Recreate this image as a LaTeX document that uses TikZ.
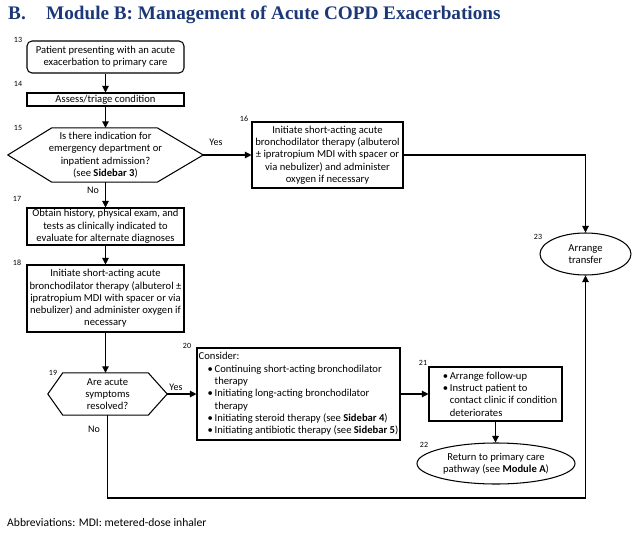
\documentclass[tikz,border=0pt]{standalone}
\usepackage{fontspec}
\setmainfont{Carlito}
\newfontfamily\titlefont{Liberation Serif}
\usetikzlibrary{shapes.geometric,arrows.meta,calc}
\definecolor{titleblue}{RGB}{28,56,120}
\newcommand{\bul}{\hspace*{9pt}\makebox[7pt][l]{\textbullet}}
\newcommand{\cnt}{\hspace*{16pt}}
\begin{document}
\begin{tikzpicture}[x=1pt,y=-1pt,
  every node/.style={font=\fontsize{10.6}{12.3}\selectfont},
  box/.style={draw, line width=1.05pt, inner sep=0pt, align=center},
  hexnode/.style={inner sep=0pt, align=center},
  oval/.style={draw, ellipse, line width=1.05pt, inner sep=0pt, align=center},
  num/.style={font=\fontsize{8}{9}\selectfont, inner sep=0pt},
  lbl/.style={font=\fontsize{10}{11}\selectfont, inner sep=0pt},
  conn/.style={line width=1.1pt, -{Triangle[length=6.5pt,width=6.5pt]}},
  plain/.style={line width=1.05pt}
]
\useasboundingbox (0,0) rectangle (640,535);

% title
\node[anchor=base west, inner sep=0pt, font=\titlefont\bfseries\fontsize{19.2}{21}\selectfont, text=titleblue] (tB) at (8,20) {B.};
\node[anchor=base west, inner sep=0pt, font=\titlefont\bfseries\fontsize{19.2}{21}\selectfont, text=titleblue] (tM) at (46,20) {Module B: Management of Acute COPD Exacerbations};

% nodes
\node[box, rounded corners=5pt, minimum width=157, minimum height=32] (b13) at (105.5,57)
  {Patient presenting with an acute\\exacerbation to primary care};
\node[box, minimum width=157, minimum height=13] (b14) at (105.5,99.5) {Assess/triage condition};
\node[hexnode, minimum width=195, minimum height=54] (h15) at (105.5,155)
  {Is there indication for\\emergency department or\\inpatient admission?\\(see \textbf{Sidebar 3})};
\draw[plain] (h15.west) -- ($(h15.north west)+(44,0)$) -- ($(h15.north east)+(-46,0)$) -- (h15.east)
  -- ($(h15.south east)+(-46,0)$) -- ($(h15.south west)+(44,0)$) -- cycle;
\node[box, minimum width=151, minimum height=66] (b16) at (327.5,155)
  {Initiate short-acting acute\\bronchodilator therapy (albuterol\\± ipratropium MDI with spacer or\\via nebulizer) and administer\\oxygen if necessary};
\node[box, minimum width=157, minimum height=37] (b17) at (105.5,226.5)
  {Obtain history, physical exam, and\\tests as clinically indicated to\\evaluate for alternate diagnoses};
\node[box, minimum width=157, minimum height=67] (b18) at (105.5,298.5)
  {Initiate short-acting acute\\bronchodilator therapy (albuterol ±\\ipratropium MDI with spacer or via\\nebulizer) and administer oxygen if\\necessary};
\node[hexnode, minimum width=119, minimum height=42] (h19) at (107.5,394)
  {Are acute\\symptoms\\resolved?};
\draw[plain] (h19.west) -- ($(h19.north west)+(15,0)$) -- ($(h19.north east)+(-19,0)$) -- (h19.east)
  -- ($(h19.south east)+(-19,0)$) -- ($(h19.south west)+(15,0)$) -- cycle;
\node[box, align=left, minimum width=203, minimum height=92] (b20) at (298.5,394)
  {Consider:\\
   \bul Continuing short-acting bronchodilator\\
   \cnt therapy\\
   \bul Initiating long-acting bronchodilator\\
   \cnt therapy\\
   \bul Initiating steroid therapy (see \textbf{Sidebar 4})\\
   \bul Initiating antibiotic therapy (see \textbf{Sidebar 5})};
\node[box, align=left, minimum width=133, minimum height=54] (b21) at (495.5,394)
  {\bul Arrange follow-up\\
   \bul Instruct patient to\\
   \cnt contact clinic if condition\\
   \cnt deteriorates};
\node[oval, minimum width=158, minimum height=41] (e22) at (496,463.5)
  {Return to primary care\\pathway (see \textbf{Module A})};
\node[oval, minimum width=91, minimum height=42] (e23) at (585.5,254)
  {Arrange\\transfer};

% numbers
\node[num] (n13) at (18,40) {13};
\node[num] (n14) at (18,84) {14};
\node[num] (n15) at (18,128) {15};
\node[num] (n16) at (244,119) {16};
\node[num] (n17) at (17,199) {17};
\node[num] (n18) at (17,263) {18};
\node[num] (n19) at (53,373) {19};
\node[num] (n20) at (187,346) {20};
\node[num] (n21) at (423,363) {21};
\node[num] (n22) at (424,445) {22};
\node[num] (n23) at (538,237) {23};

% connector labels
\node[lbl] (y15) at (216,142) {Yes};
\node[lbl] (no15) at (93,190) {No};
\node[lbl] (y19) at (176,387) {Yes};
\node[lbl] (no19) at (94,429) {No};

% connectors
\coordinate (c1) at (107.5,498);
\draw[conn] (b13) -- (b14);
\draw[conn] (b14) -- (h15);
\draw[conn] (h15.east) -- (b16.west);
\draw[conn] (h15.south) -- (b17.north);
\draw[conn] (b16.east) -| (e23.north);
\draw[conn] (b17) -- (b18);
\draw[conn] (b18.south) -- (b18.south |- h19.north);
\draw[conn] (h19.east) -- (b20.west);
\draw[conn] (b20.east) -- (b21.west);
\draw[conn] (b21.south) -- (b21.south |- e22.north);
\draw[conn] (h19.south) -- (c1) -| (e23.south);

% footnote
\node[anchor=west, inner sep=0pt, font=\fontsize{11.6}{13}\selectfont] (abbr) at (7,523) {Abbreviations: MDI: metered-dose inhaler};
\end{tikzpicture}
\end{document}
